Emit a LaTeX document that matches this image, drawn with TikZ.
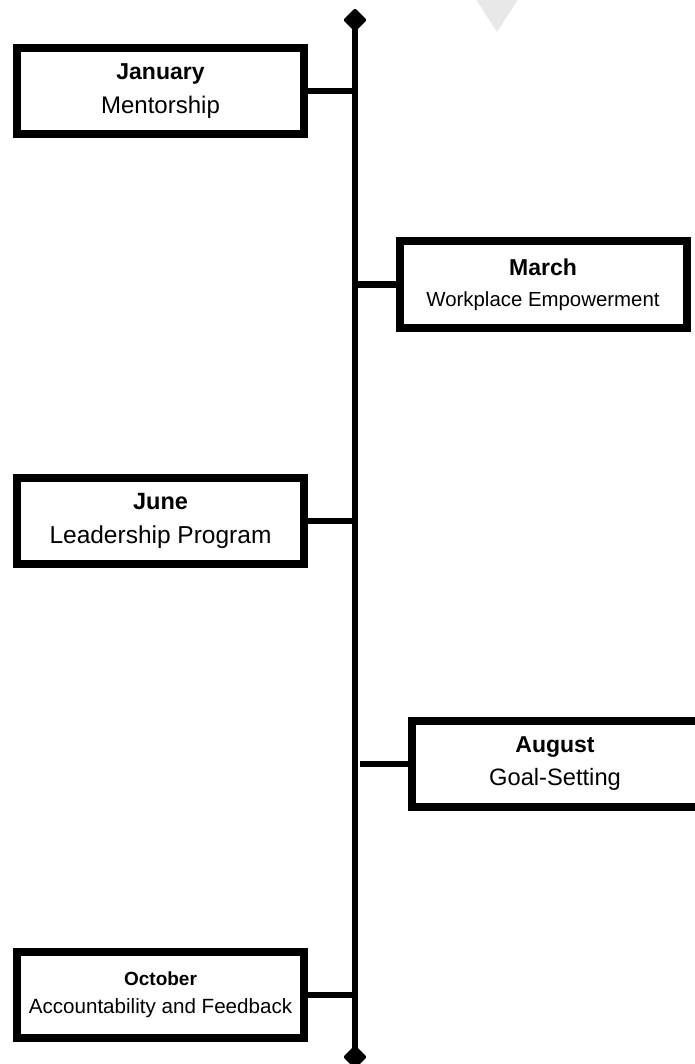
\documentclass[tikz,border=0pt]{standalone}
\usepackage{fontspec}
\setmainfont{Liberation Sans}
\usetikzlibrary{shapes.geometric,positioning}

\begin{document}
\begin{tikzpicture}[
  x=1pt, y=-1pt,                           % one unit = one pixel, y down
  event/.style = {rectangle,
                  draw,
                  line width=8pt,
                  fill=white,
                  minimum width=287pt,
                  minimum height=86pt,
                  align=center,
                  inner sep=0pt},
  link/.style  = {line width=6pt},
  tip/.style   = {diamond,
                  fill,
                  minimum size=24pt,
                  inner sep=0pt,
                  rounded corners=2pt}
]
\useasboundingbox (0,0) rectangle (695,1064);

% faint marker at the top edge
\fill[black!9] (475,-2) -- (519,-2) -- (497,32) -- cycle;

% spine
\node[tip] (start) at (355,20)   {};
\node[tip] (end)   at (355,1057) {};
\draw[link] (start.center) -- (end.center);

\node[event, font=\fontsize{24}{34}\selectfont] (jan) at (160.5,91.5)
  {{\fontsize{23}{34}\selectfont\bfseries January}\\Mentorship};
\node[event, font=\fontsize{20.4}{31}\selectfont] (mar) at (543,284.5)
  {{\fontsize{23}{31}\selectfont\bfseries March}\\Workplace Empowerment};
\node[event, font=\fontsize{24.5}{34}\selectfont] (jun) at (160.5,520.5)
  {{\fontsize{23.5}{34}\selectfont\bfseries June}\\Leadership Program};
\node[event, font=\fontsize{23.7}{33}\selectfont] (aug) at (555,763.5)
  {{\fontsize{23}{33}\selectfont\bfseries August}\\Goal-Setting};
\node[event, font=\fontsize{20.6}{28}\selectfont] (oct) at (160.5,995)
  {{\fontsize{19}{28}\selectfont\bfseries October}\\Accountability and Feedback};

\draw[link] (jan.east) -- (jan.east -| start);
\draw[link] (mar.west -| start) -- (mar.west);
\draw[link] (jun.east) -- (jun.east -| start);
\draw[link] ([xshift=5pt]aug.west -| start) -- (aug.west);
\draw[link] (oct.east) -- (oct.east -| start);

\end{tikzpicture}
\end{document}
